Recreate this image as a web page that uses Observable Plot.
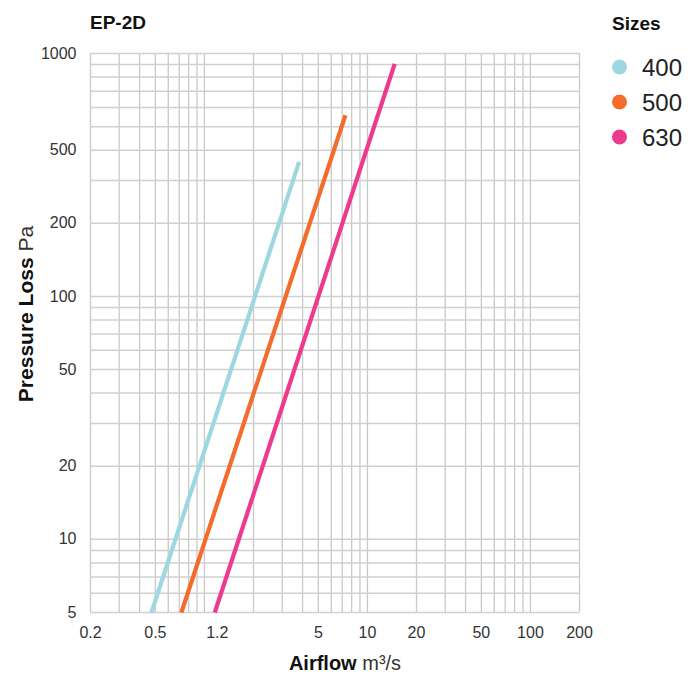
<!DOCTYPE html>
<html>
<head>
<meta charset="utf-8">
<script src="https://cdn.jsdelivr.net/npm/d3@7"></script>
<script src="https://cdn.jsdelivr.net/npm/@observablehq/plot@0.6"></script>
<style>
  html, body { margin: 0; padding: 0; background: #fff; }
  svg { display: block; }
</style>
</head>
<body>
<script>
// ---- data ----
const title = "EP-2D";
const legendTitle = "Sizes";
const sizes = ["400", "500", "630"];
const colors = ["#9dd8e0", "#f36c2b", "#ee3a8c"];
// airflow (m³/s) and pressure loss (Pa) at the start and end of each curve
const flow400 = [0.473, 3.81];
const loss400 = [5, 358];
const flow500 = [0.722, 7.33];
const loss500 = [5, 557];
const flow630 = [1.157, 14.7];
const loss630 = [5, 907];

const xTicks = [0.2, 0.5, 1.2, 5, 10, 20, 50, 100, 200];
const xTickLabels = ["0.2", "0.5", "1.2", "5", "10", "20", "50", "100", "200"];
const yTicks = [5, 10, 20, 50, 100, 200, 400, 1000];
const yTickLabels = ["5", "10", "20", "50", "100", "200", "500", "1000"];
const xDomain = [0.2, 200];
const yDomain = [5, 1000];

// ---- build table ----
const series = [[flow400, loss400], [flow500, loss500], [flow630, loss630]];
const rows = [];
series.forEach(([f, p], i) => f.forEach((v, j) => rows.push({size: sizes[i], flow: v, loss: p[j]})));

const xGrid = d3.scaleLog().domain(xDomain).ticks();
const yGrid = d3.scaleLog().domain(yDomain).ticks();

const font = "'Liberation Sans', Arial, sans-serif";
const W = 692, H = 677;
const chart = Plot.plot({
  width: W,
  height: H,
  marginTop: 53,
  marginBottom: 65,
  marginLeft: 90,
  marginRight: 113,
  style: {fontFamily: font, fontSize: "16px", color: "#333", background: "#fff"},
  x: {type: "log", domain: xDomain, axis: null},
  y: {type: "log", domain: yDomain, axis: null},
  color: {domain: sizes, range: colors},
  marks: [
    Plot.ruleX(xGrid, {stroke: "#c9c9c9", strokeWidth: 1.3}),
    Plot.ruleY(yGrid, {stroke: "#d0d0d0", strokeWidth: 1.5}),
    Plot.line(rows, {x: "flow", y: "loss", z: "size", stroke: "size", strokeWidth: 4.2, strokeLinecap: "butt"}),
    Plot.text(xTicks, {x: d => d, text: (d, i) => xTickLabels[i], frameAnchor: "bottom", dy: 20, lineAnchor: "middle", fill: "#333", fontSize: 16}),
    Plot.text(yTicks, {y: d => d, text: (d, i) => yTickLabels[i], frameAnchor: "left", dx: -14, textAnchor: "end", lineAnchor: "middle", fill: "#333", fontSize: 16})
  ]
});
document.body.appendChild(chart);

const svg = d3.select(chart);
// title
svg.append("text").attr("x", 90).attr("y", 29).attr("text-anchor", "start").attr("font-family", font)
  .attr("font-size", 19).attr("font-weight", "bold").attr("fill", "#111").text(title);
// legend
svg.append("text").attr("x", 612).attr("y", 30).attr("text-anchor", "start").attr("font-family", font)
  .attr("font-size", 19).attr("font-weight", "bold").attr("fill", "#111").text(legendTitle);
sizes.forEach((s, i) => {
  const cy = 67 + i * 35;
  svg.append("circle").attr("cx", 619.5).attr("cy", cy).attr("r", 7.5).attr("fill", colors[i]);
  svg.append("text").attr("x", 642).attr("y", cy + 8.6).attr("text-anchor", "start").attr("font-family", font)
    .attr("font-size", 24).attr("fill", "#222").text(s);
});
// x axis label
const xl = svg.append("text").attr("x", 345).attr("y", 670).attr("text-anchor", "middle")
  .attr("font-family", font).attr("font-size", 20).attr("fill", "#111");
xl.append("tspan").attr("font-weight", "bold").text("Airflow");
xl.append("tspan").attr("fill", "#333").text(" m³/s");
// y axis label
const yl = svg.append("text").attr("transform", "translate(33,314) rotate(-90)").attr("text-anchor", "middle")
  .attr("font-family", font).attr("font-size", 21).attr("fill", "#111");
yl.append("tspan").attr("font-weight", "bold").text("Pressure Loss");
yl.append("tspan").attr("fill", "#333").text(" Pa");
</script>
</body>
</html>
